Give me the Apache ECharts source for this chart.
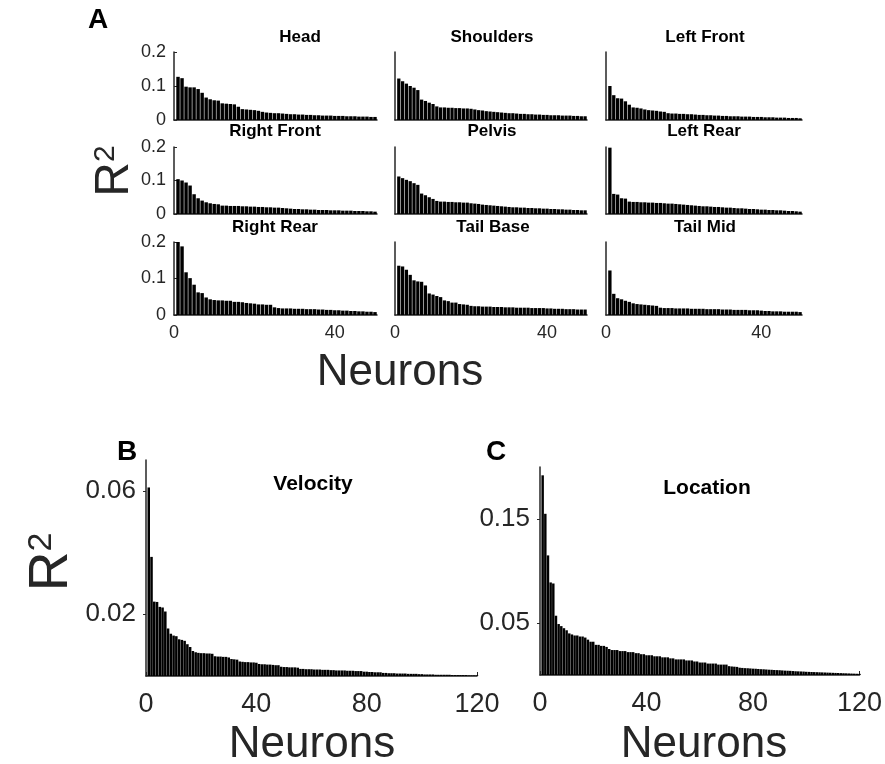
<!DOCTYPE html>
<html>
<head>
<meta charset="utf-8">
<script src="https://cdn.jsdelivr.net/npm/echarts@6/dist/echarts.min.js"></script>
<style>
  html, body { margin: 0; padding: 0; background: #fff; }
  #chart { width: 885px; height: 764px; }
</style>
</head>
<body>
<div id="chart"></div>
<script>
// R^2 per neuron, sorted descending (panel A: body parts, 50 neurons each)
const head = [0.127,0.123,0.098,0.096,0.096,0.091,0.080,0.066,0.061,0.058,0.057,0.049,0.048,0.047,0.046,0.039,0.032,0.031,0.030,0.029,0.027,0.024,0.022,0.021,0.020,0.020,0.019,0.018,0.017,0.017,0.016,0.016,0.015,0.015,0.014,0.014,0.013,0.013,0.013,0.012,0.012,0.012,0.011,0.011,0.011,0.010,0.010,0.010,0.009,0.009];
const shoulders = [0.122,0.114,0.107,0.100,0.095,0.088,0.060,0.056,0.051,0.047,0.040,0.037,0.037,0.036,0.036,0.035,0.035,0.034,0.034,0.033,0.031,0.029,0.028,0.026,0.025,0.024,0.023,0.022,0.021,0.020,0.020,0.019,0.018,0.018,0.017,0.017,0.016,0.016,0.015,0.015,0.014,0.014,0.014,0.013,0.013,0.013,0.012,0.012,0.011,0.011];
const leftFront = [0.100,0.073,0.064,0.063,0.055,0.045,0.037,0.036,0.034,0.031,0.029,0.028,0.027,0.025,0.024,0.020,0.019,0.019,0.018,0.018,0.017,0.017,0.016,0.015,0.015,0.014,0.014,0.013,0.013,0.012,0.012,0.011,0.011,0.011,0.010,0.010,0.010,0.009,0.009,0.009,0.008,0.008,0.008,0.007,0.007,0.007,0.006,0.006,0.006,0.005];
const rightFront = [0.104,0.100,0.094,0.085,0.059,0.047,0.040,0.035,0.032,0.030,0.029,0.025,0.025,0.024,0.024,0.024,0.023,0.023,0.022,0.022,0.021,0.021,0.020,0.020,0.019,0.019,0.018,0.017,0.016,0.015,0.015,0.014,0.014,0.013,0.013,0.012,0.012,0.012,0.011,0.011,0.011,0.010,0.010,0.010,0.009,0.009,0.009,0.008,0.008,0.007];
const pelvis = [0.112,0.107,0.102,0.098,0.092,0.087,0.061,0.056,0.050,0.045,0.039,0.037,0.037,0.036,0.036,0.035,0.035,0.034,0.034,0.032,0.031,0.030,0.028,0.027,0.026,0.025,0.024,0.023,0.022,0.021,0.020,0.020,0.019,0.019,0.018,0.018,0.017,0.017,0.016,0.016,0.015,0.015,0.014,0.014,0.013,0.013,0.012,0.012,0.011,0.011];
const leftRear = [0.198,0.060,0.058,0.047,0.046,0.037,0.036,0.036,0.035,0.035,0.034,0.034,0.033,0.033,0.032,0.031,0.031,0.030,0.029,0.028,0.027,0.026,0.025,0.024,0.023,0.023,0.022,0.021,0.021,0.020,0.019,0.019,0.018,0.017,0.017,0.016,0.015,0.015,0.014,0.013,0.013,0.012,0.012,0.011,0.011,0.010,0.009,0.009,0.008,0.007];
const rightRear = [0.200,0.188,0.117,0.101,0.083,0.062,0.060,0.048,0.043,0.041,0.040,0.040,0.039,0.039,0.036,0.036,0.035,0.033,0.032,0.031,0.029,0.029,0.028,0.028,0.021,0.019,0.018,0.018,0.018,0.017,0.017,0.017,0.016,0.016,0.016,0.015,0.015,0.014,0.014,0.013,0.013,0.012,0.012,0.011,0.011,0.010,0.010,0.009,0.009,0.008];
const tailBase = [0.135,0.133,0.124,0.110,0.095,0.092,0.091,0.081,0.059,0.056,0.052,0.049,0.040,0.038,0.034,0.034,0.030,0.029,0.028,0.025,0.024,0.024,0.023,0.023,0.023,0.022,0.022,0.022,0.021,0.021,0.021,0.020,0.020,0.020,0.020,0.019,0.019,0.019,0.019,0.018,0.018,0.017,0.017,0.017,0.016,0.016,0.016,0.015,0.015,0.015];
const tailMid = [0.122,0.058,0.046,0.043,0.039,0.036,0.032,0.030,0.029,0.028,0.027,0.026,0.025,0.020,0.019,0.019,0.019,0.018,0.018,0.018,0.018,0.017,0.017,0.017,0.017,0.016,0.016,0.016,0.016,0.015,0.015,0.015,0.014,0.014,0.014,0.014,0.013,0.013,0.013,0.012,0.011,0.011,0.010,0.010,0.010,0.009,0.009,0.009,0.009,0.008];

// panel B / C: 120 neurons
const velocityR2 = [0.0611,0.0386,0.0241,0.0240,0.0224,0.0222,0.0209,0.0154,0.0137,0.0131,0.0129,0.0119,0.0117,0.0114,0.0103,0.0094,0.0081,0.0077,0.0075,0.0074,
  0.0074,0.0073,0.0073,0.0072,0.0064,0.0063,0.0063,0.0062,0.0062,0.0060,0.0055,0.0054,0.0053,0.0047,0.0046,0.0045,0.0045,0.0044,0.0044,0.0043,
  0.0039,0.0038,0.0038,0.0037,0.0037,0.0036,0.0035,0.0035,0.0030,0.0029,0.0029,0.0028,0.0028,0.0028,0.0027,0.0023,0.0023,0.0022,0.0022,0.0022,
  0.0021,0.0021,0.0021,0.0020,0.0020,0.0020,0.0019,0.0019,0.0018,0.0018,0.0018,0.0018,0.0017,0.0017,0.0017,0.0016,0.0016,0.0016,0.0014,0.0014,
  0.0013,0.0013,0.0012,0.0012,0.0012,0.0010,0.0010,0.0009,0.0009,0.0009,0.0008,0.0008,0.0008,0.0008,0.0007,0.0007,0.0007,0.0007,0.0006,0.0006,
  0.0005,0.0005,0.0005,0.0005,0.0004,0.0004,0.0004,0.0004,0.0004,0.0004,0.0003,0.0003,0.0003,0.0003,0.0003,0.0003,0.0002,0.0002,0.0002,0.0002];
const locationR2 = [0.192,0.155,0.115,0.089,0.088,0.057,0.049,0.047,0.045,0.043,0.040,0.039,0.038,0.038,0.037,0.037,0.036,0.034,0.032,0.032,
  0.029,0.029,0.028,0.028,0.027,0.025,0.024,0.024,0.024,0.023,0.023,0.023,0.022,0.022,0.022,0.021,0.021,0.020,0.020,0.019,
  0.019,0.019,0.018,0.018,0.018,0.017,0.017,0.017,0.016,0.016,0.015,0.015,0.015,0.015,0.014,0.014,0.014,0.013,0.013,0.012,
  0.012,0.012,0.011,0.011,0.011,0.011,0.010,0.010,0.010,0.010,0.0085,0.0082,0.0080,0.0078,0.0070,0.0068,0.0066,0.0065,0.0063,0.0061,
  0.0060,0.0058,0.0056,0.0055,0.0053,0.0051,0.0050,0.0048,0.0047,0.0046,0.0044,0.0042,0.0041,0.0040,0.0038,0.0036,0.0035,0.0034,0.0033,0.0031,
  0.0030,0.0029,0.0028,0.0027,0.0026,0.0025,0.0024,0.0023,0.0022,0.0021,0.0020,0.0019,0.0018,0.0017,0.0016,0.0015,0.0014,0.0013,0.0012,0.0011];

const smallTitles = ['Head','Shoulders','Left Front','Right Front','Pelvis','Left Rear','Right Rear','Tail Base','Tail Mid'];
const smallData = [head, shoulders, leftFront, rightFront, pelvis, leftRear, rightRear, tailBase, tailMid];
const smallYTicks = [0, 0.1, 0.2];
const smallXTicks = [0, 40];
const bigXTicks = [0, 40, 80, 120];
const velocityYTicks = [0.02, 0.06];
const locationYTicks = [0.05, 0.15];

const FONT = 'Liberation Sans, Arial, Helvetica, sans-serif';
const AXIS_COLOR = '#262626';

// subplot boxes [left, top, width, height]
const colBox = [[174, 203], [395, 192], [606, 196]];
const rowBox = [[52, 68], [147, 67], [242, 73]];
const titlePos = [[300, 37], [492, 37], [705, 37], [275, 131], [492, 131], [704, 131], [275, 227], [493, 227], [705, 227]];

let grids = [], xAxes = [], yAxes = [], series = [], texts = [];

function toPairs(arr) {
  return arr.map((v, i) => [i + 1, v]);
}

smallData.forEach((d, k) => {
  const r = Math.floor(k / 3), c = k % 3;
  grids.push({ left: colBox[c][0], top: rowBox[r][0], width: colBox[c][1], height: rowBox[r][1] });
  const lastRow = r === 2, firstCol = c === 0;
  xAxes.push({
    gridIndex: k, type: 'value', min: 0, max: 50.5,
    axisLine: { lineStyle: { color: AXIS_COLOR, width: 1.5 } },
    axisTick: { show: lastRow, inside: true, length: 3, customValues: [40], lineStyle: { color: AXIS_COLOR } },
    axisLabel: { show: lastRow, customValues: smallXTicks, margin: 9, fontSize: 18, color: AXIS_COLOR, fontFamily: FONT },
    splitLine: { show: false }
  });
  yAxes.push({
    gridIndex: k, type: 'value', min: 0, max: 0.2,
    axisLine: { show: true, lineStyle: { color: AXIS_COLOR, width: 1.5 } },
    axisTick: { show: firstCol, inside: true, length: 3, customValues: smallYTicks, lineStyle: { color: AXIS_COLOR } },
    axisLabel: { show: firstCol, customValues: smallYTicks, margin: 8, fontSize: 18, color: AXIS_COLOR, fontFamily: FONT,
      formatter: v => String(+v.toFixed(2)) },
    splitLine: { show: false }
  });
  series.push({
    type: 'bar', xAxisIndex: k, yAxisIndex: k, data: toPairs(d), barWidth: '86%',
    itemStyle: { color: '#000' }, silent: true, animation: false
  });
  texts.push({ type: 'text', x: titlePos[k][0], y: titlePos[k][1],
    style: { text: smallTitles[k], font: 'bold 17px ' + FONT, fill: '#000', align: 'center', verticalAlign: 'middle' } });
});

// panel B and C
const bigPanels = [
  { data: velocityR2, box: [146, 460, 331, 216], ymax: 0.07, yticks: velocityYTicks, title: 'Velocity', tpos: [313, 484] },
  { data: locationR2, box: [540, 467, 321, 208], ymax: 0.2, yticks: locationYTicks, title: 'Location', tpos: [707, 488] }
];
bigPanels.forEach(p => {
  const k = grids.length;
  grids.push({ left: p.box[0], top: p.box[1], width: p.box[2], height: p.box[3] });
  xAxes.push({
    gridIndex: k, type: 'value', min: 0, max: 120,
    axisLine: { lineStyle: { color: AXIS_COLOR, width: 1.5 } },
    axisTick: { show: true, inside: true, length: 4, customValues: bigXTicks, lineStyle: { color: AXIS_COLOR } },
    axisLabel: { customValues: bigXTicks, margin: 15, fontSize: 27, color: AXIS_COLOR, fontFamily: FONT },
    splitLine: { show: false }
  });
  yAxes.push({
    gridIndex: k, type: 'value', min: 0, max: p.ymax,
    axisLine: { show: true, lineStyle: { color: AXIS_COLOR, width: 1.5 } },
    axisTick: { show: true, length: 3, customValues: p.yticks, lineStyle: { color: AXIS_COLOR } },
    axisLabel: { customValues: p.yticks, margin: 10, fontSize: 26, color: AXIS_COLOR, fontFamily: FONT,
      formatter: v => String(+v.toFixed(2)) },
    splitLine: { show: false }
  });
  series.push({
    type: 'bar', xAxisIndex: k, yAxisIndex: k, data: toPairs(p.data), barWidth: '92%',
    itemStyle: { color: '#000' }, silent: true, animation: false
  });
  texts.push({ type: 'text', x: p.tpos[0], y: p.tpos[1],
    style: { text: p.title, font: 'bold 21px ' + FONT, fill: '#000', align: 'center', verticalAlign: 'middle' } });
});

// panel letters and axis names
function label(text, x, y, size, bold) {
  return { type: 'text', x: x, y: y,
    style: { text: text, font: (bold ? 'bold ' : '') + size + 'px ' + FONT, fill: bold ? '#000' : AXIS_COLOR, align: 'center', verticalAlign: 'middle' } };
}
function rSquared(x, y, size) {
  return { type: 'text', x: x, y: y, rotation: Math.PI / 2,
    style: { text: '{r|R}{s|2}', align: 'center', verticalAlign: 'middle', fill: AXIS_COLOR,
      rich: { r: { fontSize: size, fontFamily: FONT, fill: AXIS_COLOR },
              s: { fontSize: Math.round(size * 0.62), fontFamily: FONT, fill: AXIS_COLOR, verticalAlign: 'top' } } } };
}
texts.push(label('A', 98, 20, 28, true));
texts.push(label('B', 127, 452, 28, true));
texts.push(label('C', 496, 452, 28, true));
texts.push(label('Neurons', 400, 373, 44, false));
texts.push(label('Neurons', 312, 745, 44, false));
texts.push(label('Neurons', 704, 745, 44, false));
texts.push(rSquared(115, 171, 48));
texts.push(rSquared(52, 562, 55));

const chart = echarts.init(document.getElementById('chart'), null, { renderer: 'canvas' });
chart.setOption({
  backgroundColor: '#fff',
  animation: false,
  grid: grids,
  xAxis: xAxes,
  yAxis: yAxes,
  series: series,
  graphic: texts
});
</script>
</body>
</html>
